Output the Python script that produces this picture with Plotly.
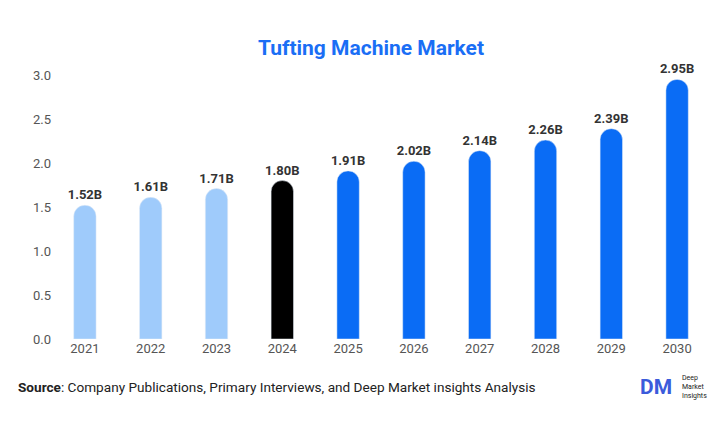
import plotly.graph_objects as go

years = ["2021","2022","2023","2024","2025","2026","2027","2028","2029","2030"]
values = [1.52,1.61,1.71,1.80,1.91,2.02,2.14,2.26,2.39,2.95]
labels = ["1.52B","1.61B","1.71B","1.80B","1.91B","2.02B","2.14B","2.26B","2.39B","2.95B"]
colors = ["#9fcbfb"]*3 + ["#000000"] + ["#0a6cf5"]*6

fig = go.Figure(go.Bar(x=years, y=values, marker_color=colors, text=labels,
    textposition="outside", cliponaxis=False, constraintext="none",
    textfont=dict(family="Roboto", size=13, color="#333333", weight="bold")))
fig.update_layout(
    width=726, height=443, plot_bgcolor="white", paper_bgcolor="white",
    margin=dict(l=44, r=24, t=67, b=112), bargap=0.66, barcornerradius=11,
    showlegend=False,
    title=dict(text="<b>Tufting Machine Market</b>", x=0.5, xanchor="center", y=0.91, yanchor="middle",
               font=dict(family="Roboto", size=21, color="#1a6ef5")),
    xaxis=dict(showgrid=False, showline=False, ticks="", tickfont=dict(family="Roboto", size=13, color="#555")),
    yaxis=dict(range=[0, 3.0], dtick=0.5, tickformat=".1f", showgrid=False, zeroline=False,
               tickfont=dict(family="Roboto", size=13, color="#555")),
    annotations=[
        dict(text="<b>Source</b>: Company Publications, Primary Interviews, and Deep Market insights Analysis",
             xref="paper", yref="paper", x=-0.055, y=-0.18, xanchor="left", yanchor="middle", showarrow=False,
             font=dict(family="Roboto", size=13.6, color="#222")),
        dict(text="<b>DM</b>", xref="paper", yref="paper", x=0.89, y=-0.18, xanchor="left", yanchor="middle",
             showarrow=False, font=dict(family="Roboto", size=21, color="#3b5bdb")),
        dict(text="Deep<br>Market<br>Insights", xref="paper", yref="paper", x=0.955, y=-0.18, xanchor="left",
             yanchor="middle", align="left", showarrow=False,
             font=dict(family="Roboto", size=7, color="#222")),
    ],
)
fig.write_html("out.html")
